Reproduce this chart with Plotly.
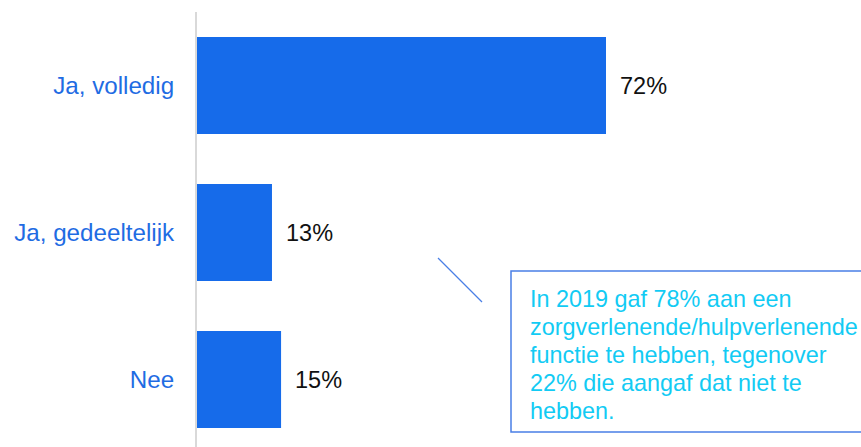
import plotly.graph_objects as go

categories = ["Ja, volledig", "Ja, gedeeltelijk", "Nee"]
values = [72, 13.2, 14.8]
value_labels = ["72%", "13%", "15%"]
note_lines = [
    "In 2019 gaf 78% aan een",
    "zorgverlenende/hulpverlenende",
    "functie te hebben, tegenover",
    "22% die aangaf dat niet te",
    "hebben.",
]

W, H = 861, 447
ML, MT = 197, 12
PW, PH = W - ML, H - MT

def px(x):
    return (x - ML) / PW

def py(y):
    return (H - y) / PH

ypos = list(range(len(categories)))

fig = go.Figure()
fig.add_trace(go.Bar(
    x=values, y=ypos, orientation="h",
    marker=dict(color="#166BEA", line=dict(width=0)),
    width=0.66, hoverinfo="skip",
))

for v, yv, t in zip(values, ypos, value_labels):
    fig.add_annotation(x=v, y=yv, xref="x", yref="y", text=t, showarrow=False,
                       xanchor="left", yanchor="middle", xshift=12,
                       font=dict(family="Liberation Sans, Arial", size=23.5, color="#111111"))

# note box
fig.add_shape(type="rect", xref="paper", yref="paper",
              x0=px(511), x1=px(863), y0=py(432), y1=py(271),
              line=dict(color="#4A7FE6", width=1.5), fillcolor="rgba(0,0,0,0)")
fig.add_shape(type="line", xref="paper", yref="paper",
              x0=px(438), y0=py(258), x1=px(482), y1=py(302),
              line=dict(color="#4A7FE6", width=1.2))
for i, line in enumerate(note_lines):
    fig.add_annotation(x=px(528), y=py(299 + 27.9 * i), xref="paper", yref="paper",
                       text=line, showarrow=False, xanchor="left", yanchor="middle",
                       font=dict(family="Liberation Sans, Arial", size=23.4, color="#12CBF4"))

fig.update_layout(
    width=W, height=H,
    margin=dict(l=ML, r=0, t=MT, b=0),
    paper_bgcolor="white", plot_bgcolor="white",
    showlegend=False,
    xaxis=dict(range=[0, PW / (409 / 72)], visible=False, fixedrange=True),
    yaxis=dict(
        tickmode="array", tickvals=ypos, ticktext=categories,
        range=[(447 - 85.5) / 147.0, -0.5],
        showline=True, linecolor="#D9D9D9", linewidth=2,
        showgrid=False, zeroline=False, ticks="",
        ticklabelstandoff=16,
        tickfont=dict(family="Liberation Sans, Arial", size=24.2, color="#1F6CE3"),
        fixedrange=True,
    ),
)

fig.write_html("out.html")
